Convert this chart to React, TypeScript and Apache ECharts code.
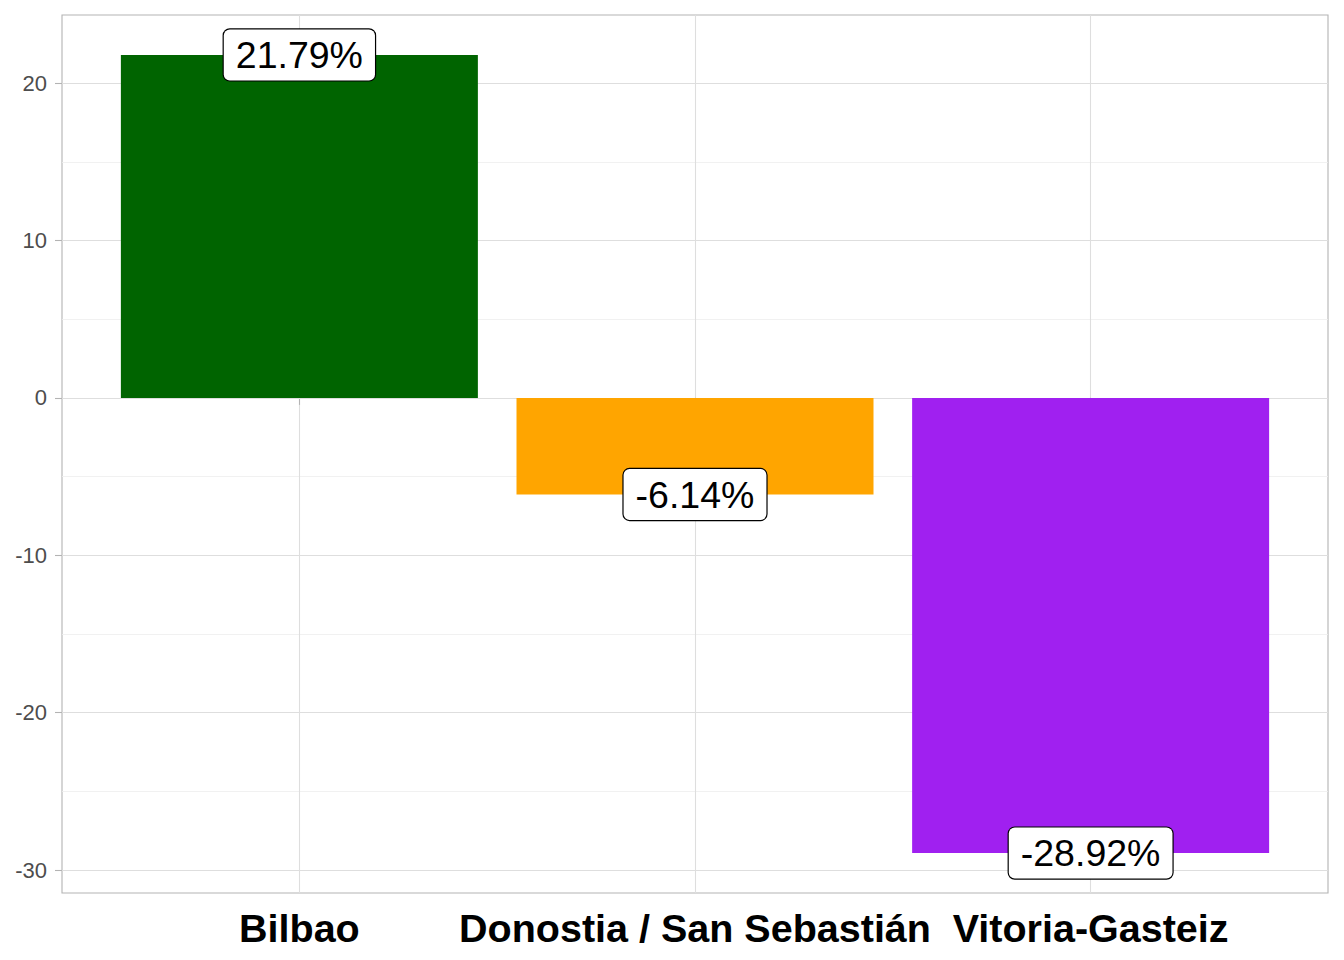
import React, { useEffect, useRef } from "react";
import * as echarts from "echarts";

const categories = ["Bilbao", "Donostia / San Sebastián", "Vitoria-Gasteiz"];
const values = [21.79, -6.14, -28.92];
const barColors = ["#006400", "#FFA500", "#A020F0"];
const yMajorTicks = [-30, -20, -10, 0, 10, 20];
const xTicks = [1, 2, 3];

const FONT = "'Liberation Sans', Arial, Helvetica, sans-serif";

export default function App() {
  const ref = useRef<HTMLDivElement>(null);

  useEffect(() => {
    if (!ref.current) return;
    const chart = echarts.init(ref.current, undefined, { renderer: "svg" });

    const dataMin = Math.min(...values, 0);
    const dataMax = Math.max(...values, 0);
    const span = dataMax - dataMin;
    const yMin = dataMin - span * 0.05;
    const yMax = dataMax + span * 0.05;

    const points = values.map((v, i) => [xTicks[i], v]);

    chart.setOption({
      animation: false,
      backgroundColor: "#FFFFFF",
      textStyle: { fontFamily: FONT },
      grid: {
        left: 62,
        top: 15,
        width: 1266,
        height: 878,
        show: true,
        borderColor: "#B3B3B3",
        borderWidth: 1.1,
        backgroundColor: "transparent",
        containLabel: false,
      },
      xAxis: {
        type: "value",
        min: 0.4,
        max: 3.6,
        splitNumber: 3,
        axisLine: { show: false },
        axisTick: {
          show: true,
          length: 7,
          customValues: xTicks,
          lineStyle: { color: "#B3B3B3", width: 1.1 },
        },
        axisLabel: {
          show: true,
          customValues: xTicks,
          margin: 15,
          fontSize: 39.5,
          fontWeight: "bold",
          color: "#000000",
          fontFamily: FONT,
          formatter: (v: number) => {
            const r = Math.round(v);
            if (Math.abs(v - r) > 1e-6) return "";
            return categories[r - 1] ?? "";
          },
        },
        splitLine: {
          show: true,
          lineStyle: { color: "#DEDEDE", width: 1.1 },
        },
      },
      yAxis: [
        {
          type: "value",
          min: yMin,
          max: yMax,
          splitNumber: 5,
          axisLine: { show: false },
          axisTick: {
            show: true,
            length: 7,
            customValues: yMajorTicks,
            lineStyle: { color: "#B3B3B3", width: 1.1 },
          },
          axisLabel: {
            show: true,
            customValues: yMajorTicks,
            margin: 15,
            fontSize: 22,
            color: "#4D4D4D",
            fontFamily: FONT,
            formatter: (v: number) => {
              const r = Math.round(v);
              if (Math.abs(v - r) > 1e-6 || r % 10 !== 0) return "";
              return String(r);
            },
          },
          splitLine: {
            show: true,
            lineStyle: { color: "#DEDEDE", width: 1.1 },
          },
          z: 1,
        },
        {
          type: "value",
          min: yMin,
          max: yMax,
          splitNumber: 10,
          position: "left",
          axisLine: { show: false },
          axisTick: { show: false },
          axisLabel: { show: false },
          splitLine: {
            show: true,
            showMinLine: false,
            showMaxLine: false,
            lineStyle: { color: "#EDEDED", width: 0.8 },
          },
          z: 0,
        },
      ],
      series: [
        {
          type: "bar",
          xAxisIndex: 0,
          yAxisIndex: 0,
          barWidth: 357,
          data: points.map((p, i) => ({
            value: p,
            itemStyle: { color: barColors[i] },
          })),
          z: 3,
        },
        {
          type: "scatter",
          xAxisIndex: 0,
          yAxisIndex: 0,
          symbolSize: 0,
          data: points,
          z: 5,
          itemStyle: { opacity: 1 },
          emphasis: { disabled: true },
          label: {
            show: true,
            position: "inside",
            formatter: (p: any) => `${p.value[1].toFixed(2)}%`,
            fontSize: 37.5,
            fontFamily: FONT,
            color: "#000000",
            opacity: 1,
            backgroundColor: "#FFFFFF",
            borderColor: "#000000",
            borderWidth: 1.2,
            borderRadius: 6,
            padding: [7, 12, 6, 12],
            lineHeight: 38,
          },
        },
      ],
    });

    return () => chart.dispose();
  }, []);

  return (
    <div
      ref={ref}
      style={{ position: "absolute", left: 0, top: 0, width: 1344, height: 960 }}
    />
  );
}
